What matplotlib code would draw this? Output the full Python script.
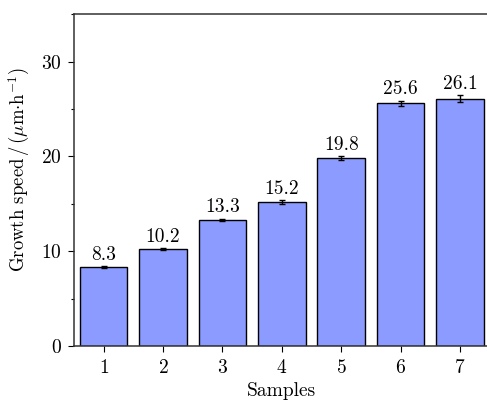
import numpy as np
import matplotlib
matplotlib.use("Agg")
import matplotlib.pyplot as plt
from matplotlib.ticker import MultipleLocator

plt.rcParams['font.family'] = ['cmr10', 'DejaVu Serif']
plt.rcParams['mathtext.fontset'] = 'cm'
plt.rcParams['axes.formatter.use_mathtext'] = True

samples = [1, 2, 3, 4, 5, 6, 7]
speed = [8.3, 10.2, 13.3, 15.2, 19.8, 25.6, 26.1]
speedErr = [0.1, 0.1, 0.12, 0.18, 0.22, 0.27, 0.35]

fig = plt.figure(figsize=(4.87, 4.03), dpi=100)
ax = fig.add_axes([0.152, 0.1414, 0.8535, 0.8236])

ax.bar(samples, speed, width=0.8, color='#8c9bff', edgecolor='black', linewidth=1.0,
       yerr=speedErr, capsize=2.5, error_kw=dict(elinewidth=1.0, capthick=1.0, ecolor='black'))
for x, v, e in zip(samples, speed, speedErr):
	ax.text(x, v + e + 0.25, "{}".format(v), ha='center', va='bottom', fontsize=14)

ax.set_xlim(0.5, 7.5)
ax.set_ylim(0, 35)
ax.set_xticks(samples)
ax.yaxis.set_major_locator(MultipleLocator(10))
ax.yaxis.set_minor_locator(MultipleLocator(5))
ax.tick_params(axis='both', which='major', direction='out', length=4, width=0.8, labelsize=14, pad=5)
ax.tick_params(axis='y', which='minor', direction='out', length=2.5, width=0.8)
for s in ax.spines.values():
	s.set_linewidth(1.1)
	s.set_color('#333333')

ax.set_xlabel("Samples", fontsize=14, labelpad=4)
ax.set_ylabel(r"Growth speed$\,$/$\,$$(\mathrm{\mu m{\cdot}h}^{-1})$", fontsize=13.5)
ax.yaxis.set_label_coords(-0.102, 0.53)

fig.savefig("out.png", dpi=100)
